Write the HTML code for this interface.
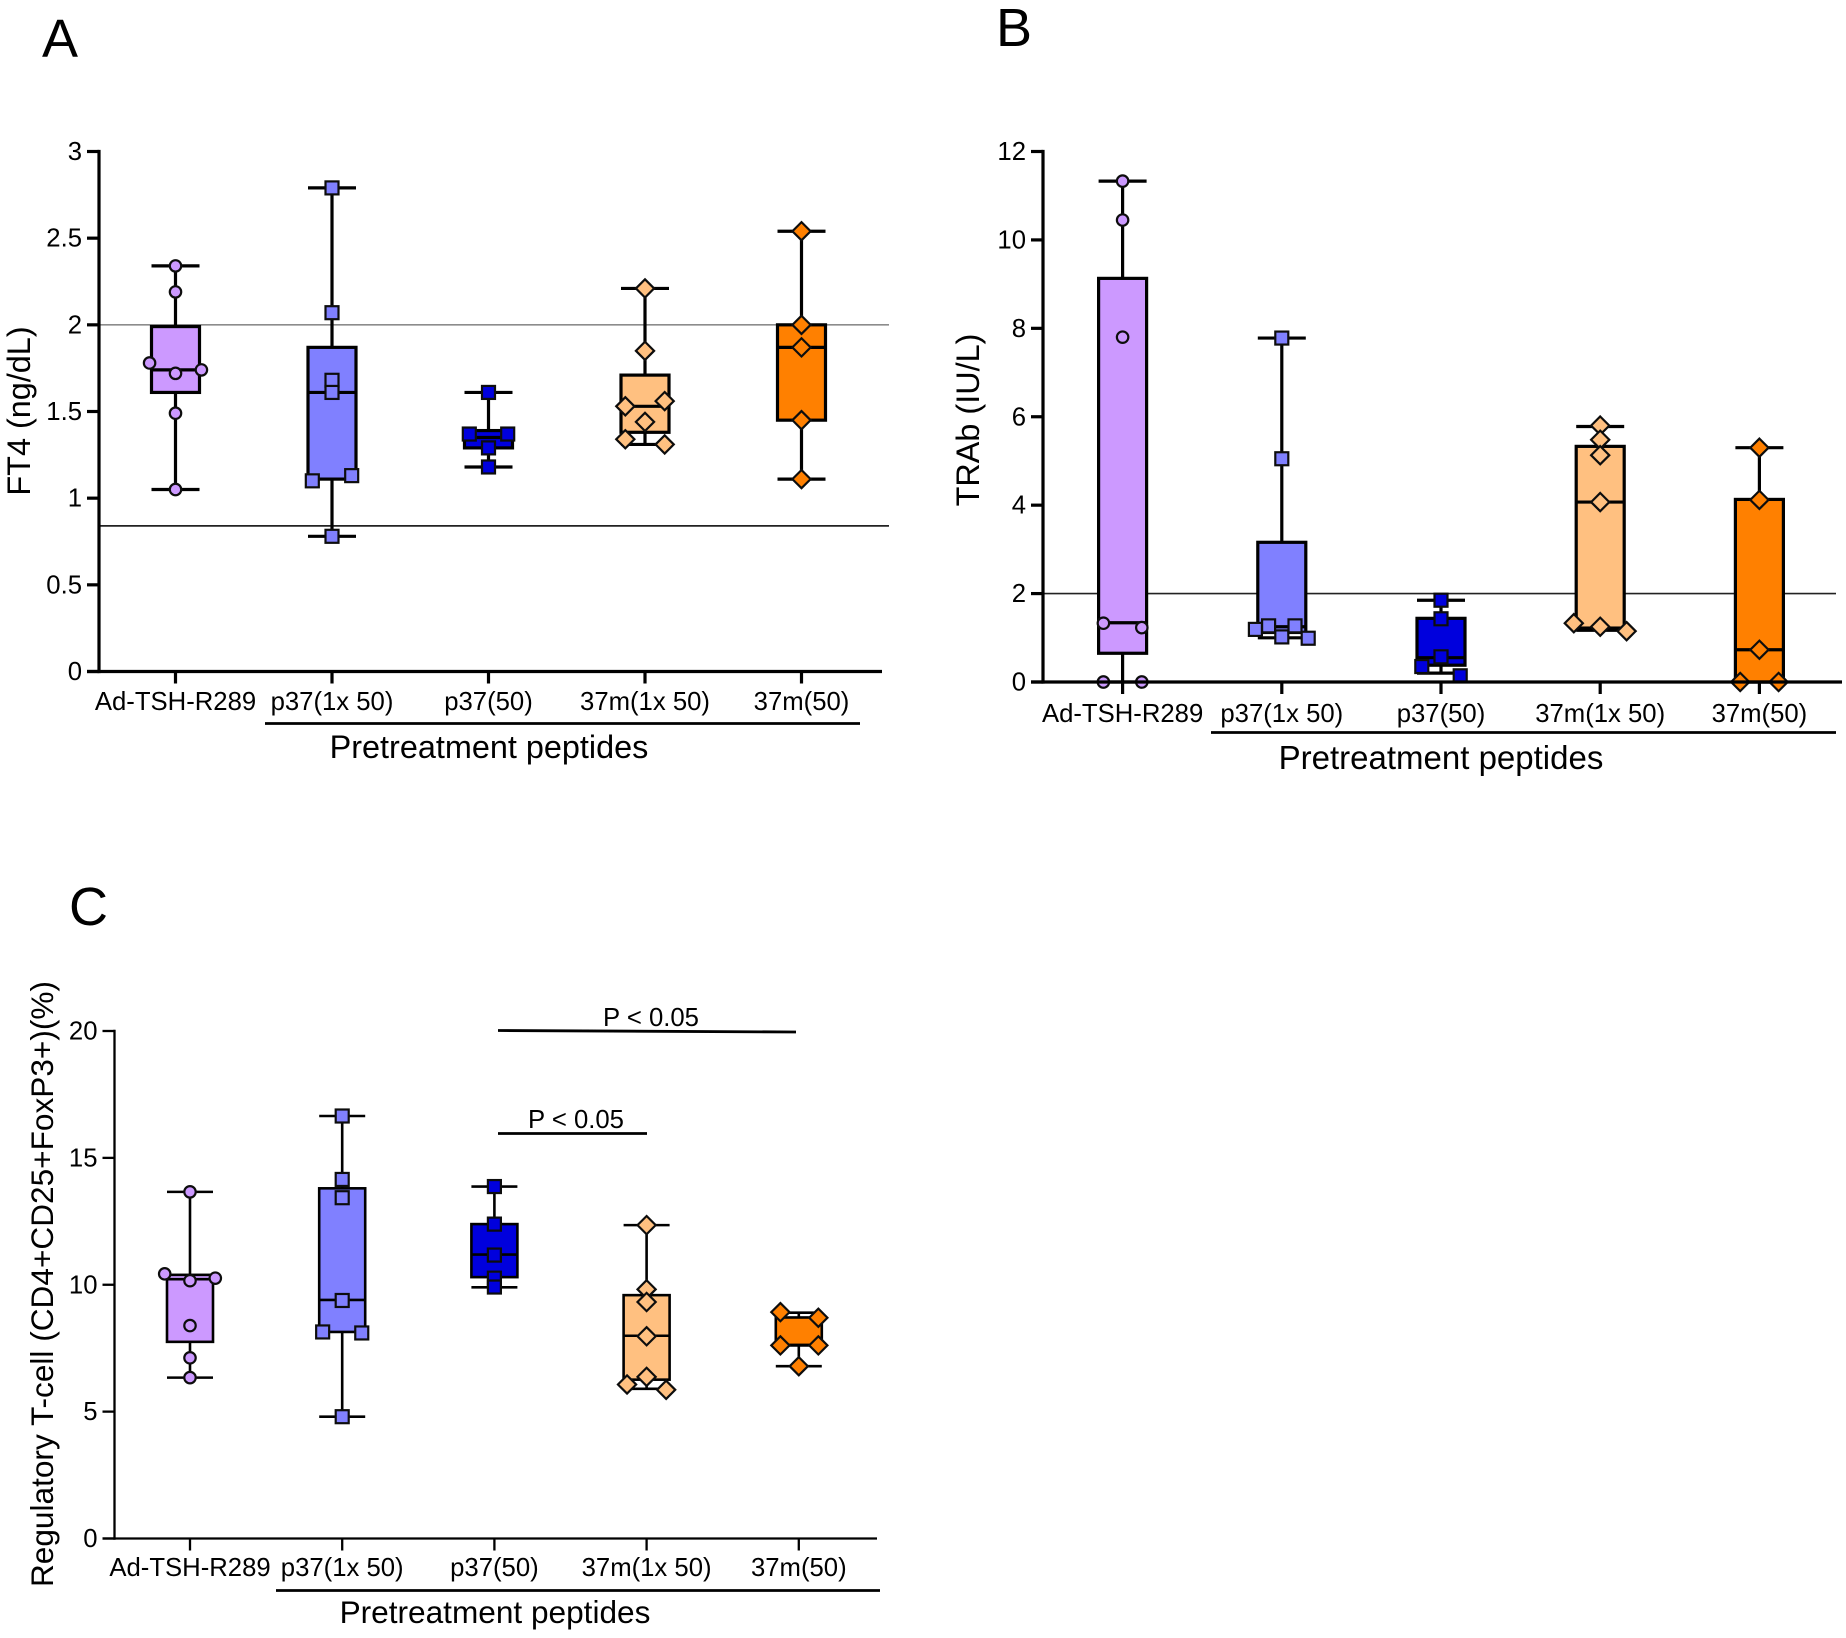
<!DOCTYPE html>
<html>
<head>
<meta charset="utf-8">
<title>Box plots: FT4, TRAb, regulatory T-cells</title>
<style>
html,body{margin:0;padding:0;background:#fff}
svg{display:block}
text{font-family:"Liberation Sans",Arial,sans-serif;fill:#000}
.small{font-size:25.7px}
.big{font-size:32.4px}
.bigb{font-size:33px}
.bigc{font-size:31.6px}
.letter{font-size:54px;fill:#000}
</style>
</head>
<body>
<svg id="figure" xmlns="http://www.w3.org/2000/svg" width="1846" height="1638" viewBox="0 0 1846 1638">
  <g filter="url(#soft)" id="root">
    <rect x="0" y="0" width="1846" height="1638" fill="#fff"/>
    <text class="letter" x="42" y="57">A</text>
    <text class="letter" x="996" y="46">B</text>
    <text class="letter" x="69" y="925">C</text>

    <text class="big" text-anchor="middle" transform="translate(30,411) rotate(-90)">FT4 (ng/dL)</text>
    <text class="big" text-anchor="middle" transform="translate(979,420) rotate(-90)">TRAb (IU/L)</text>
    <text class="bigc" text-anchor="middle" transform="translate(53,1284) rotate(-90)">Regulatory T-cell (CD4+CD25+FoxP3+)(%)</text>

    <text class="big" text-anchor="middle" x="489" y="758">Pretreatment peptides</text>
    <text class="bigb" text-anchor="middle" x="1441" y="769">Pretreatment peptides</text>
    <text class="bigc" text-anchor="middle" x="495" y="1623">Pretreatment peptides</text>

    <line x1="265" x2="860" y1="723.5" y2="723.5" stroke="#000" stroke-width="2.8"/>
    <line x1="1211" x2="1836" y1="732.5" y2="732.5" stroke="#000" stroke-width="2.8"/>
    <line x1="276" x2="880" y1="1590.5" y2="1590.5" stroke="#000" stroke-width="2.8"/>

    <line x1="498" x2="796" y1="1030.5" y2="1032" stroke="#000" stroke-width="2.8"/>
    <text class="small" text-anchor="middle" x="651" y="1026">P &lt; 0.05</text>
    <line x1="498" x2="647" y1="1133.5" y2="1133.5" stroke="#000" stroke-width="2.8"/>
    <text class="small" text-anchor="middle" x="576" y="1128">P &lt; 0.05</text>
  </g>
  <defs>
    <filter id="soft" x="0" y="0" width="100%" height="100%"><feGaussianBlur stdDeviation="0.35"/></filter>
  </defs>
</svg>
<script>
// ---- Shared categories ----
const categories = ["Ad-TSH-R289", "p37(1x 50)", "p37(50)", "37m(1x 50)", "37m(50)"];
const groupFills = ["#CC99FF", "#8080FF", "#0000DD", "#FFC080", "#FF8000"];
const groupMarkers = ["circle", "square", "square", "diamond", "diamond"];

// ---- Panel A: FT4 (ng/dL) ----
const ft4Ticks = [0, 0.5, 1, 1.5, 2, 2.5, 3];
const ft4Reference = [2, 0.84];
const ft4Values = [
  [2.34, 2.19, 1.78, 1.72, 1.74, 1.49, 1.05],
  [2.79, 2.07, 1.68, 1.61, 1.10, 1.13, 0.78],
  [1.61, 1.37, 1.37, 1.29, 1.18],
  [2.21, 1.85, 1.53, 1.56, 1.44, 1.34, 1.31],
  [2.54, 2.00, 1.87, 1.45, 1.11]
];
const ft4Slots = [
  [0, 0, -1.08, 0, 1.08, 0, 0],
  [0, 0, 0, 0, -0.82, 0.82, 0],
  [0, -0.8, 0.8, 0, 0],
  [0, 0, -0.82, 0.82, 0, -0.82, 0.82],
  [0, 0, 0, 0, 0]
];
const ft4High = [2.34, 2.79, 1.61, 2.21, 2.54];
const ft4Q3 = [1.99, 1.87, 1.39, 1.71, 2.00];
const ft4Median = [1.74, 1.61, 1.35, 1.53, 1.87];
const ft4Q1 = [1.61, 1.11, 1.29, 1.38, 1.45];
const ft4Low = [1.05, 0.78, 1.18, 1.31, 1.11];

// ---- Panel B: TRAb (IU/L) ----
const trabTicks = [0, 2, 4, 6, 8, 10, 12];
const trabReference = [2];
const trabValues = [
  [11.33, 10.45, 7.8, 1.33, 1.23, 0, 0],
  [7.78, 5.05, 1.19, 1.27, 1.02, 1.27, 0.99],
  [1.85, 1.43, 0.57, 0.35, 0.14],
  [5.8, 5.48, 5.13, 4.07, 1.33, 1.25, 1.15],
  [5.3, 4.12, 0.73, 0, 0]
];
const trabSlots = [
  [0, 0, 0, -0.8, 0.8, -0.8, 0.8],
  [0, 0, -1.1, -0.55, 0, 0.55, 1.1],
  [0, 0, 0, -0.8, 0.8],
  [0, 0, 0, 0, -1.1, 0, 1.1],
  [0, 0, 0, -0.8, 0.8]
];
const trabHigh = [11.33, 7.78, 1.85, 5.78, 5.3];
const trabQ3 = [9.13, 3.16, 1.44, 5.33, 4.13];
const trabMedian = [1.34, 1.25, 0.55, 4.07, 0.73];
const trabQ1 = [0.65, 1.12, 0.38, 1.22, 0];
const trabLow = [0, 1.0, 0.2, 1.17, 0];

// ---- Panel C: Regulatory T-cell (%) ----
const tregTicks = [0, 5, 10, 15, 20];
const tregReference = [];
const tregValues = [
  [13.66, 10.43, 10.16, 10.26, 8.39, 7.12, 6.34],
  [16.65, 14.15, 13.43, 9.38, 8.14, 8.10, 4.8],
  [13.87, 12.39, 11.17, 10.26, 9.91],
  [12.35, 9.82, 9.32, 7.97, 6.37, 6.07, 5.86],
  [8.92, 8.7, 7.61, 7.61, 6.79]
];
const tregSlots = [
  [0, -1.1, 0, 1.1, 0, 0, 0],
  [0, 0, 0, 0, -0.85, 0.85, 0],
  [0, 0, 0, 0, 0],
  [0, 0, 0, 0, 0, -0.85, 0.85],
  [-0.8, 0.85, -0.8, 0.85, 0]
];
const tregHigh = [13.66, 16.65, 13.87, 12.35, 8.9];
const tregQ3 = [10.39, 13.8, 12.39, 9.59, 8.71];
const tregMedian = [10.22, 9.4, 11.19, 7.99, 7.61];
const tregQ1 = [7.75, 8.14, 10.3, 6.26, 7.63];
const tregLow = [6.34, 4.8, 9.9, 5.9, 6.79];

const NS = "http://www.w3.org/2000/svg";
const root = document.getElementById("root");

function make(tag, parent, attrs) {
  const node = document.createElementNS(NS, tag);
  for (const k in attrs) node.setAttribute(k, attrs[k]);
  parent.appendChild(node);
  return node;
}

function drawMarker(parent, kind, cx, cy, fill, size) {
  let node;
  if (kind === "circle") {
    node = make("circle", parent, {cx: cx, cy: cy, r: size * 0.88});
  } else if (kind === "square") {
    node = make("rect", parent, {x: cx - size, y: cy - size, width: 2 * size, height: 2 * size});
  } else {
    const d = size * 1.4;
    node = make("polygon", parent, {points: [cx, cy - d, cx + d, cy, cx, cy + d, cx - d, cy].join(" ")});
  }
  node.setAttribute("fill", fill);
  node.setAttribute("stroke", "#111");
  node.setAttribute("stroke-width", "2.2");
  return node;
}

function drawPanel(id, frame, domainMax, ticks, references, values, slots, high, q3, median, q1, low) {
  const yPx = v => frame.y0 + (frame.yTop - frame.y0) * v / domainMax;
  const xPx = i => frame.xFirst + frame.xStep * i;
  const g = make("g", root, {});
  
  

  references.forEach((r, i) => {
    const line = make("line", g, {x1: frame.x0, x2: frame.refEnd, y1: yPx(r), y2: yPx(r),
      stroke: (id === "panel-a" && i === 0) ? "#8c8c8c" : "#222", "stroke-width": 1.7});
    
    
  });

  categories.forEach((name, i) => {
    const x = xPx(i);
    const group = make("g", g, {});
    
    
    const sw = frame.stroke;

    const whisker = make("line", group, {x1: x, x2: x, y1: yPx(high[i]), y2: yPx(low[i]), stroke: "#000", "stroke-width": sw});
    
    

    const capHigh = make("line", group, {x1: x - frame.half, x2: x + frame.half, y1: yPx(high[i]), y2: yPx(high[i]), stroke: "#000", "stroke-width": sw});
    
    

    const capLow = make("line", group, {x1: x - frame.half, x2: x + frame.half, y1: yPx(low[i]), y2: yPx(low[i]), stroke: "#000", "stroke-width": sw});
    
    

    const box = make("rect", group, {x: x - frame.half, y: yPx(q3[i]), width: 2 * frame.half,
      height: yPx(q1[i]) - yPx(q3[i]), fill: groupFills[i], stroke: "#000", "stroke-width": sw});
    
    

    const med = make("line", group, {x1: x - frame.half, x2: x + frame.half, y1: yPx(median[i]), y2: yPx(median[i]), stroke: "#000", "stroke-width": sw});
    
    

    values[i].forEach((v, j) => {
      const m = drawMarker(group, groupMarkers[i], x + slots[i][j] * frame.half, yPx(v), groupFills[i], frame.marker);
      
      
    });
  });

  const yAxis = make("line", g, {x1: frame.x0, x2: frame.x0, y1: yPx(domainMax) - frame.stroke / 2, y2: frame.y0 + frame.stroke / 2, stroke: "#000", "stroke-width": frame.axis});
  
  

  const xAxis = make("line", g, {x1: frame.x0 - 12, x2: frame.xEnd, y1: frame.y0, y2: frame.y0, stroke: "#000", "stroke-width": frame.axis});
  
  

  ticks.forEach(t => {
    const tick = make("line", g, {x1: frame.x0 - 12, x2: frame.x0, y1: yPx(t), y2: yPx(t), stroke: "#000", "stroke-width": frame.axis});
    
    
    const label = make("text", g, {x: frame.x0 - 17, y: yPx(t) + 8.5, "text-anchor": "end", class: "small"});
    label.textContent = String(t);
    
    
  });

  categories.forEach((name, i) => {
    const tick = make("line", g, {x1: xPx(i), x2: xPx(i), y1: frame.y0, y2: frame.y0 + 12, stroke: "#000", "stroke-width": frame.axis});
    
    
    const label = make("text", g, {x: xPx(i), y: frame.labelY, "text-anchor": "middle", class: "small"});
    label.textContent = name;
    
    
  });
}

drawPanel("panel-a",
  {x0: 99, xEnd: 882, refEnd: 889, y0: 671.5, yTop: 151.5, xFirst: 175.5, xStep: 156.5, half: 24, marker: 6.5, stroke: 3.2, axis: 3.2, labelY: 710},
  3, ft4Ticks, ft4Reference, ft4Values, ft4Slots, ft4High, ft4Q3, ft4Median, ft4Q1, ft4Low);

drawPanel("panel-b",
  {x0: 1043, xEnd: 1842, refEnd: 1836, y0: 682, yTop: 151.5, xFirst: 1122.6, xStep: 159.2, half: 24, marker: 6.5, stroke: 3.2, axis: 3.2, labelY: 722},
  12, trabTicks, trabReference, trabValues, trabSlots, trabHigh, trabQ3, trabMedian, trabQ1, trabLow);

drawPanel("panel-c",
  {x0: 114.5, xEnd: 877, refEnd: 877, y0: 1538.5, yTop: 1031, xFirst: 190, xStep: 152.2, half: 23, marker: 6.5, stroke: 2.6, axis: 2.3, labelY: 1576},
  20, tregTicks, tregReference, tregValues, tregSlots, tregHigh, tregQ3, tregMedian, tregQ1, tregLow);
</script>
</body>
</html>
